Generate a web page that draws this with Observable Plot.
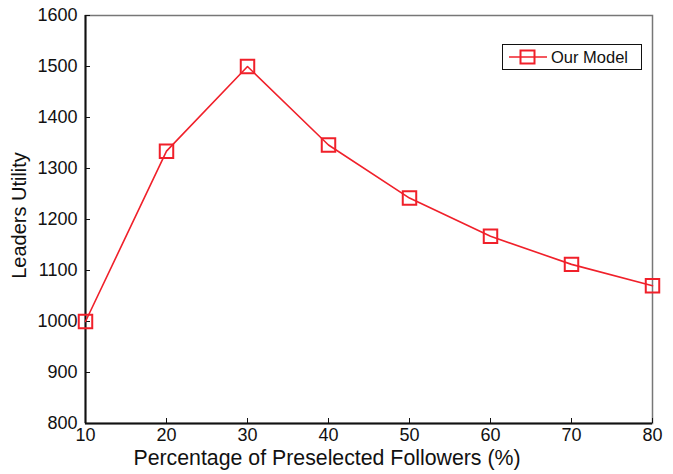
<!DOCTYPE html>
<html>
<head>
<meta charset="utf-8">
<script src="https://cdn.jsdelivr.net/npm/d3@7"></script>
<script src="https://cdn.jsdelivr.net/npm/@observablehq/plot@0.6"></script>
<style>
  html, body { margin: 0; padding: 0; background: #fff; }
  #chart { position: relative; width: 673px; height: 474px; font-family: "Liberation Sans", Arial, sans-serif; }
  #legend {
    position: absolute; left: 502px; top: 44px; width: 138px; height: 24px;
    border: 1.5px solid #111; background: #fff;
    display: flex; align-items: center; font-size: 16.5px; color: #111;
  }
  #legend svg { margin-left: 6px; margin-right: 4px; }
</style>
</head>
<body>
<div id="chart"></div>
<script>
// Percentage of preselected followers (x) and the resulting leaders utility (y)
const pct = [10, 20, 30, 40, 50, 60, 70, 80];
const utility = [1000, 1334, 1500, 1346, 1242, 1167, 1112, 1070];
const xTicks = [10, 20, 30, 40, 50, 60, 70, 80];
const yTicks = [800, 900, 1000, 1100, 1200, 1300, 1400, 1500, 1600];
const seriesName = "Our Model";

const red = "#f0202a";
const data = pct.map((p, i) => ({pct: p, utility: utility[i]}));

const plot = Plot.plot({
  width: 673,
  height: 474,
  marginLeft: 85,
  marginRight: 21,
  marginTop: 15,
  marginBottom: 51,
  style: {fontFamily: "'Liberation Sans', Arial, sans-serif", color: "#111", background: "#fff"},
  x: {domain: [10, 80]},
  y: {domain: [800, 1600]},
  marks: [
    // top/right frame edges (thin grey)
    Plot.frame({stroke: "#777", strokeWidth: 1.5}),
    // tick labels
    Plot.axisY({ticks: yTicks, tickFormat: d3.format("d"), tickSize: 0, tickPadding: 8, fontSize: 18, label: null}),
    Plot.axisX({ticks: xTicks, tickFormat: d3.format("d"), tickSize: 0, tickPadding: 5, fontSize: 18, label: null}),
    // inward tick marks
    Plot.axisY({ticks: yTicks, tickSize: 5, dx: 5, text: null, label: null, stroke: "#111"}),
    Plot.axisX({ticks: xTicks, tickSize: 5, dy: -5, text: null, label: null, stroke: "#111"}),
    // left/bottom axis lines (black, heavier)
    Plot.ruleX([10], {stroke: "#111", strokeWidth: 2}),
    Plot.ruleY([800], {stroke: "#111", strokeWidth: 2}),
    // axis titles
    Plot.text(["Leaders Utility"], {frameAnchor: "left", textAnchor: "middle", rotate: -90, dx: -66, dy: -4, fontSize: 20, fill: "#111", lineAnchor: "middle"}),
    Plot.text(["Percentage of Preselected Followers (%)"], {frameAnchor: "bottom", textAnchor: "middle", dx: -42, dy: 35, fontSize: 21.3, fill: "#111", lineAnchor: "middle"}),
    // series
    Plot.line(data, {x: "pct", y: "utility", stroke: red, strokeWidth: 1.6}),
    Plot.dot(data, {x: "pct", y: "utility", symbol: "square", r: 7.6, stroke: red, strokeWidth: 2, fill: "none"})
  ]
});

const chart = document.getElementById("chart");
chart.appendChild(plot);

// legend box inside the plot area
const legend = document.createElement("div");
legend.id = "legend";
legend.innerHTML =
  `<svg width="38" height="20" viewBox="0 0 38 20">
     <line x1="0" y1="10" x2="38" y2="10" stroke="${red}" stroke-width="1.6"/>
     <rect x="11.5" y="3.5" width="14" height="13" fill="none" stroke="${red}" stroke-width="2"/>
   </svg><span>${seriesName}</span>`;
chart.appendChild(legend);
</script>
</body>
</html>
